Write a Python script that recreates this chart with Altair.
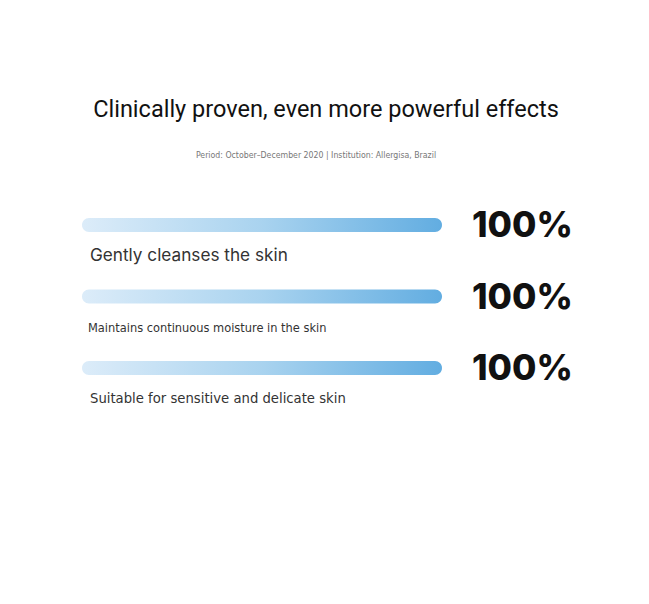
import altair as alt
import pandas as pd

# ---- data ----
categories = ["cleanse", "moisture", "sensitive"]
values = [100, 100, 100]
labels = [
    "Gently cleanses the skin",
    "Maintains continuous moisture in the skin",
    "Suitable for sensitive and delicate skin",
]
pct_labels = ["100%", "100%", "100%"]
title_text = ["Clinically proven, even more powerful effects"]
subtitle_text = ["Period: October–December 2020 | Institution: Allergisa, Brazil"]

df = pd.DataFrame({"category": categories, "value": values,
                   "label": labels, "pct": pct_labels})

yscale = alt.Scale(type="point", domain=categories, range=[217, 360], padding=0)
xscale = alt.Scale(domain=[0, 100], range=[74, 434])
Y = alt.Y("category:N", scale=yscale, axis=None)

gradient = alt.Gradient(
    gradient="linear", x1=0, x2=1, y1=0, y2=0,
    stops=[alt.GradientStop(color="#dcecf9", offset=0),
           alt.GradientStop(color="#a9d3ef", offset=0.5),
           alt.GradientStop(color="#62ade1", offset=1)],
)

bars = alt.Chart(df).mark_bar(size=14, cornerRadius=7, color=gradient, orient="horizontal").encode(
    x=alt.X("value:Q", scale=xscale, axis=None),
    x2=alt.datum(0),
    y=Y,
)

pct = alt.Chart(df).mark_text(align="left", baseline="middle", font="Inter",
                              fontWeight=800, fontSize=35.3, color="#111111", dy=1).encode(
    x=alt.value(464), y=Y, text="pct:N")

label_styles = [
    dict(font="Inter", fontSize=17.2, x=82, color="#333333"),
    dict(font="DejaVu Sans Condensed, Roboto", fontSize=12.7, x=80, color="#333333"),
    dict(font="DejaVu Sans Condensed, Roboto", fontSize=14.7, x=82, color="#333333"),
]
label_layers = []
for cat, st in zip(categories, label_styles):
    label_layers.append(
        alt.Chart(df).transform_filter(alt.datum.category == cat).mark_text(
            align="left", baseline="middle", font=st["font"], fontSize=st["fontSize"],
            color=st["color"], dy=31).encode(
            x=alt.value(st["x"]), y=Y, text="label:N")
    )

title = alt.Chart(pd.DataFrame({"t": title_text})).mark_text(
    align="center", baseline="middle", font="Roboto", fontSize=23.5, color="#111111").encode(
    x=alt.value(318), y=alt.value(102), text="t:N")

subtitle = alt.Chart(pd.DataFrame({"t": subtitle_text})).mark_text(
    align="center", baseline="middle", font="DejaVu Sans Condensed, Roboto",
    fontSize=8.7, color="#777777").encode(
    x=alt.value(308), y=alt.value(147), text="t:N")

chart = alt.layer(bars, pct, *label_layers, title, subtitle).properties(
    width=633, height=588, autosize=alt.AutoSizeParams(type="none"), padding=0,
    background="white",
).configure_view(stroke=None)

chart.save("out.html", embed_options={"renderer": "svg", "actions": False})
